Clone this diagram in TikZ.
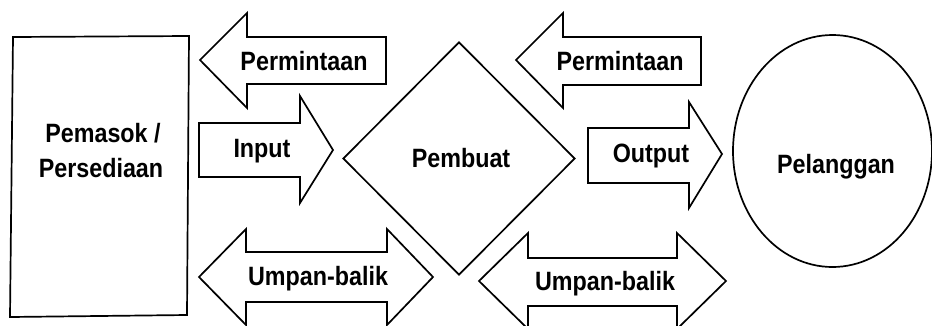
\documentclass[tikz,border=0pt]{standalone}
\usepackage{fontspec}
\newfontfamily\labelfont{Liberation Sans}[FakeStretch=0.88]
\usetikzlibrary{shapes.geometric}

\tikzset{
  outline/.style={draw=black, line width=1.7pt, line join=miter},
  caption/.style={font=\labelfont\bfseries\fontsize{26.5}{32}\selectfont,
                  anchor=base, inner sep=0pt, text=black},
}

\begin{document}
\begin{tikzpicture}[x=1pt, y=-1pt]
  % page frame
  \fill[white] (0,0) rectangle (932,325);
  \useasboundingbox (0,0) rectangle (932,325);

  % supplier block
  \coordinate (s1) at (13,37);
  \coordinate (s2) at (189,36);
  \coordinate (s3) at (187,315);
  \coordinate (s4) at (10,317);
  \draw[outline] (s1) -- (s2) -- (s3) -- (s4) -- cycle;
  \node[caption] (supA) at (103,142) {Pemasok /};
  \node[caption] (supB) at (101,177) {Persediaan};

  % manufacturer diamond
  \node[outline, diamond, minimum width=232pt, minimum height=233pt,
        inner sep=0pt] (maker) at (459,158.5) {};
  \node[caption] (makerT) at (461,167) {Pembuat};

  % customer ellipse
  \node[outline, ellipse, minimum width=199pt, minimum height=232pt,
        inner sep=0pt] (cust) at (832.5,151) {};
  \node[caption] (custT) at (836,173) {Pelanggan};

  % demand arrow, supplier side (points left)
  \draw[outline] (200,60) -- (247,13) -- (247,37) -- (386,37) -- (386,84)
                 -- (247,84) -- (247,108) -- cycle;
  \node[caption] (dem1) at (304,70) {Permintaan};

  % input arrow (points right)
  \draw[outline] (199,123) -- (300,123) -- (300,96) -- (333,150) -- (300,203)
                 -- (300,177) -- (199,177) -- cycle;
  \node[caption] (inp) at (262,157) {Input};

  % feedback arrow, supplier side (two-headed)
  \draw[outline] (199,277) -- (246,229) -- (246,252) -- (387,252) -- (387,229)
                 -- (433,277) -- (387,325) -- (387,302) -- (246,302)
                 -- (246,325) -- cycle;
  \node[caption] (fb1) at (318,285) {Umpan-balik};

  % demand arrow, customer side (points left)
  \draw[outline] (516,60) -- (563,13) -- (563,37) -- (701,37) -- (701,85)
                 -- (563,85) -- (563,108) -- cycle;
  \node[caption] (dem2) at (620,70) {Permintaan};

  % output arrow (points right)
  \draw[outline] (588,128) -- (689,128) -- (689,102) -- (722,154) -- (689,208)
                 -- (689,183) -- (588,183) -- cycle;
  \node[caption] (outp) at (651,162) {Output};

  % feedback arrow, customer side (two-headed)
  \draw[outline] (479,281) -- (528,233) -- (528,258) -- (677,258) -- (677,233)
                 -- (726,281) -- (677,329) -- (677,306) -- (528,306)
                 -- (528,329) -- cycle;
  \node[caption] (fb2) at (605,290) {Umpan-balik};
\end{tikzpicture}
\end{document}
